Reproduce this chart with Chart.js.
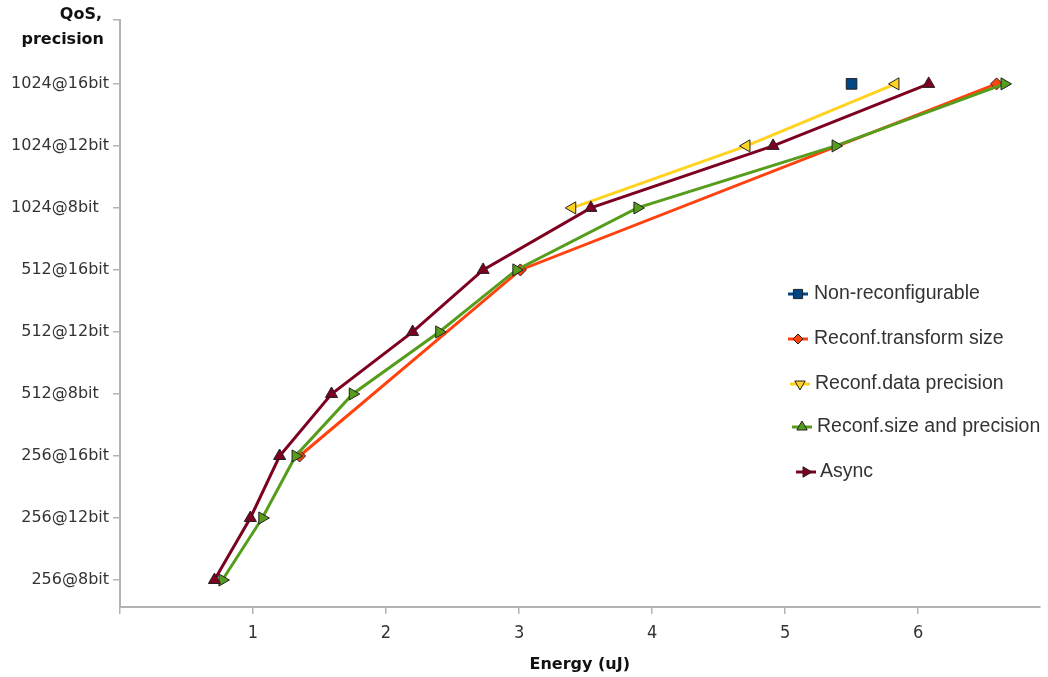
<!DOCTYPE html>
<html>
<head>
<meta charset="utf-8">
<script src="https://cdn.jsdelivr.net/npm/chart.js@4.4.0/dist/chart.umd.min.js"></script>
<style>
  html, body { margin: 0; padding: 0; background: #fff; }
  #wrap { width: 1048px; height: 677px; position: relative; }
</style>
</head>
<body>
<div id="wrap"><canvas id="c" width="1048" height="677"></canvas></div>
<script>
// y categories (bottom to top), trailing spaces kept as in the original labels
const qosLabels = ["256@8bit", "256@12bit", "256@16bit", "512@8bit  ", "512@12bit", "512@16bit", "1024@8bit  ", "1024@12bit", "1024@16bit"];
const energyTicks = [0, 1, 2, 3, 4, 5, 6];
const seriesNames = ["Non-reconfigurable", "Reconf.transform size", "Reconf.data precision", "Reconf.size and precision", "Async"];

// energy (uJ) / qos index pairs
const nonReconfEnergy = [5.50];
const nonReconfQos = [8];
const transformEnergy = [1.35, 3.01, 6.59];
const transformQos = [2, 5, 8];
const precisionEnergy = [3.40, 4.71, 5.83];
const precisionQos = [6, 7, 8];
const sizePrecEnergy = [0.77, 1.07, 1.32, 1.75, 2.40, 2.98, 3.89, 5.38, 6.65];
const sizePrecQos = [0, 1, 2, 3, 4, 5, 6, 7, 8];
const asyncEnergy = [0.71, 0.98, 1.20, 1.59, 2.20, 2.73, 3.54, 4.91, 6.08];
const asyncQos = [0, 1, 2, 3, 4, 5, 6, 7, 8];

function pts(xs, ys) { return xs.map((x, i) => ({ x: x, y: ys[i] })); }

const colors = ["#004586", "#ff420e", "#ffd320", "#579d1c", "#7e0021"];
const styles = ["rect", "rectRot", "triangle", "triangle", "triangle"];
const chartRot = [0, 0, -90, 90, 0];
const legendRot = [0, 0, 180, 0, 90];
const radii = [7.5, 6, 7, 7, 7];

const allData = [
  pts(nonReconfEnergy, nonReconfQos),
  pts(transformEnergy, transformQos),
  pts(precisionEnergy, precisionQos),
  pts(sizePrecEnergy, sizePrecQos),
  pts(asyncEnergy, asyncQos)
];
const drawOrder = [0, 3, 4, 2, 1];

const datasets = seriesNames.map((name, i) => ({
  label: name,
  data: allData[i],
  showLine: true,
  borderColor: colors[i],
  backgroundColor: colors[i],
  borderWidth: 3,
  pointStyle: styles[i],
  rotation: chartRot[i],
  pointRadius: radii[i],
  pointBackgroundColor: colors[i],
  pointBorderColor: "#222",
  pointBorderWidth: 1,
  tension: 0,
  order: drawOrder[i]
}));

// y title + legend
const extraText = {
  id: "extraText",
  afterDraw(chart) {
    const ctx = chart.ctx;
    ctx.save();
    ctx.fillStyle = "#111";
    ctx.font = 'bold 16px "DejaVu Sans"';
    ctx.textAlign = "right";
    ctx.textBaseline = "middle";
    ctx.fillText("QoS,", 102, 15);
    ctx.fillText("precision", 104, 40);

    const iconX = [798, 798, 800, 802, 806];
    const textX = [814, 814, 815, 817, 820];
    const rowY = [294, 339, 384, 427, 472];
    seriesNames.forEach((name, i) => {
      const y = rowY[i];
      ctx.strokeStyle = colors[i];
      ctx.lineWidth = 3;
      ctx.beginPath();
      ctx.moveTo(iconX[i] - 10, y);
      ctx.lineTo(iconX[i] + 10, y);
      ctx.stroke();
      ctx.fillStyle = colors[i];
      ctx.strokeStyle = "#222";
      ctx.lineWidth = 1;
      Chart.helpers.drawPoint(ctx, {
        pointStyle: styles[i],
        rotation: legendRot[i],
        radius: radii[i] - 1,
        borderWidth: 1
      }, iconX[i], y);
      ctx.fillStyle = "#333";
      ctx.font = '19.5px "Liberation Sans"';
      ctx.textAlign = "left";
      ctx.fillText(name, textX[i], y);
    });
    ctx.restore();
  }
};

new Chart(document.getElementById("c"), {
  type: "scatter",
  data: { datasets: datasets },
  options: {
    responsive: false,
    animation: false,
    events: [],
    layout: { padding: { top: 20, right: 3, left: 0, bottom: 0 } },
    plugins: { legend: { display: false }, tooltip: { enabled: false } },
    scales: {
      x: {
        type: "linear",
        min: 0,
        max: 6.913,
        afterBuildTicks: s => { s.ticks = energyTicks.map(v => ({ value: v })); },
        afterFit: s => { s.height = 70; },
        ticks: {
          callback: v => v === 0 ? "" : v,
          font: { family: '"DejaVu Sans Condensed", "Liberation Sans Narrow", "DejaVu Sans"', size: 18 },
          color: "#333",
          padding: 9,
          maxRotation: 0
        },
        grid: { drawOnChartArea: false, drawTicks: true, tickLength: 7, color: "#b3b3b3", lineWidth: 1.5 },
        border: { color: "#b3b3b3", width: 2 },
        title: {
          display: true,
          text: "Energy (uJ)",
          font: { family: '"DejaVu Sans"', size: 16, weight: "bold" },
          color: "#111",
          padding: { top: 0, bottom: 3 }
        }
      },
      y: {
        type: "linear",
        min: -0.435,
        max: 9.03,
        afterBuildTicks: s => { s.ticks = qosLabels.map((l, i) => ({ value: i })).concat([{ value: 9.03 }]); },
        afterFit: s => { s.width = 120; },
        ticks: {
          callback: v => qosLabels[v] !== undefined && Number.isInteger(v) ? qosLabels[v] : "",
          font: { family: '"DejaVu Sans"', size: 16 },
          color: "#333",
          padding: 4
        },
        grid: { drawOnChartArea: false, drawTicks: true, tickLength: 7, color: "#b3b3b3", lineWidth: 1.5 },
        border: { color: "#b3b3b3", width: 2 }
      }
    }
  },
  plugins: [extraText]
});
</script>
</body>
</html>
